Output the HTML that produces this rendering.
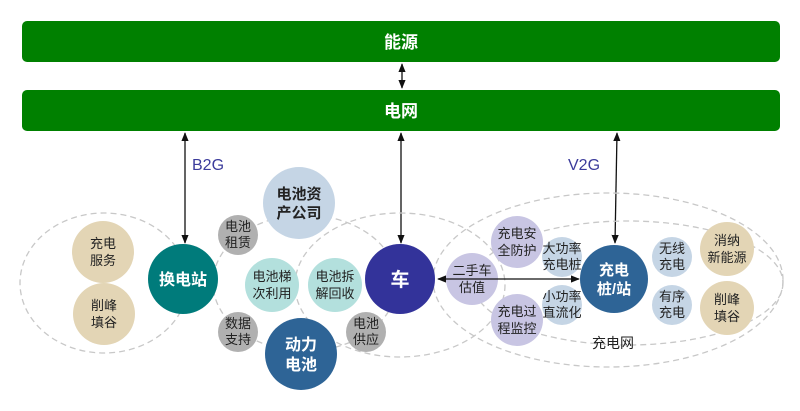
<!DOCTYPE html>
<html><head><meta charset="utf-8"><style>
html,body{margin:0;padding:0;background:#fff}
svg text{font-family:"Liberation Sans","Noto Sans CJK SC",sans-serif}
</style></head><body>
<svg width="800" height="406" viewBox="0 0 800 406" xmlns="http://www.w3.org/2000/svg">
<defs>
<marker id="a" viewBox="0 0 10 10" refX="9" refY="5" markerWidth="7" markerHeight="7" orient="auto-start-reverse"><path d="M0,1 L10,5 L0,9 z" fill="#111"/></marker>
</defs>
<rect x="22" y="21" width="758" height="41" rx="5" fill="#008000"/>
<rect x="22" y="90" width="758" height="41" rx="5" fill="#008000"/>
<text x="401" y="48" font-size="17" font-weight="bold" fill="#fff" text-anchor="middle">能源</text>
<text x="401" y="117" font-size="17" font-weight="bold" fill="#fff" text-anchor="middle">电网</text>
<g stroke="#111" stroke-width="1.3" fill="none">
<line x1="402" y1="64" x2="402" y2="88" marker-start="url(#a)" marker-end="url(#a)"/>
<line x1="185" y1="243" x2="185" y2="133" marker-start="url(#a)" marker-end="url(#a)"/>
<line x1="401" y1="243" x2="401" y2="133" marker-start="url(#a)" marker-end="url(#a)"/>
<line x1="615" y1="243" x2="617" y2="133" marker-start="url(#a)" marker-end="url(#a)"/>
</g>
<text x="192" y="170" font-size="16" fill="#3b3b9b">B2G</text>
<text x="568" y="170" font-size="16" fill="#3b3b9b">V2G</text>
<g stroke="#c8c8c8" stroke-width="1.3" stroke-dasharray="6,4" fill="none">
<ellipse cx="104" cy="283" rx="84" ry="70"/>
<ellipse cx="305" cy="283" rx="92" ry="68"/>
<ellipse cx="400" cy="285" rx="105" ry="72"/>
<ellipse cx="608" cy="280" rx="175" ry="87"/>
<ellipse cx="628" cy="283" rx="155" ry="62"/>
</g>
<g font-size="13" text-anchor="middle" fill="#222">
<circle cx="103" cy="252" r="31" fill="#e3d5b5"/><text x="103" y="248">充电</text><text x="103" y="265">服务</text>
<circle cx="104" cy="314" r="31" fill="#e3d5b5"/><text x="104" y="310">削峰</text><text x="104" y="327">填谷</text>
<circle cx="299" cy="203" r="36" fill="#c5d5e5"/><text x="299" y="199" font-size="15" font-weight="bold">电池资</text><text x="299" y="218" font-size="15" font-weight="bold">产公司</text>
<circle cx="238" cy="235" r="20" fill="#b0b0b0"/><text x="238" y="231">电池</text><text x="238" y="247">租赁</text>
<circle cx="272" cy="285" r="27" fill="#b3e0dd"/><text x="272" y="281">电池梯</text><text x="272" y="298">次利用</text>
<circle cx="335" cy="285" r="27" fill="#b3e0dd"/><text x="335" y="281">电池拆</text><text x="335" y="298">解回收</text>
<circle cx="238" cy="332" r="20" fill="#b0b0b0"/><text x="238" y="328">数据</text><text x="238" y="344">支持</text>
<circle cx="366" cy="332" r="20" fill="#b0b0b0"/><text x="366" y="328">电池</text><text x="366" y="344">供应</text>
<circle cx="183" cy="279" r="35" fill="#007b7b"/><text x="183" y="285" font-size="16" font-weight="bold" fill="#fff">换电站</text>
<circle cx="301" cy="354" r="36" fill="#2e6496"/><text x="301" y="350" font-size="16" font-weight="bold" fill="#fff">动力</text><text x="301" y="370" font-size="16" font-weight="bold" fill="#fff">电池</text>
<circle cx="400" cy="279" r="35" fill="#33339a"/><text x="400" y="286" font-size="19" font-weight="bold" fill="#fff">车</text>
<circle cx="472" cy="279" r="26" fill="#c8c5e3"/><text x="472" y="275">二手车</text><text x="472" y="292">估值</text>
<circle cx="517" cy="242" r="26" fill="#c8c5e3"/><text x="517" y="238">充电安</text><text x="517" y="255">全防护</text>
<circle cx="517" cy="320" r="26" fill="#c8c5e3"/><text x="517" y="316">充电过</text><text x="517" y="333">程监控</text>
<circle cx="562" cy="257" r="20" fill="#c5d5e5"/><text x="562" y="253">大功率</text><text x="562" y="269">充电桩</text>
<circle cx="562" cy="305" r="20" fill="#c5d5e5"/><text x="562" y="301">小功率</text><text x="562" y="317">直流化</text>
<circle cx="614" cy="279" r="34" fill="#2e6496"/><text x="614" y="275" font-size="15" font-weight="bold" fill="#fff">充电</text><text x="614" y="294" font-size="15" font-weight="bold" fill="#fff">桩/站</text>
<circle cx="672" cy="257" r="20" fill="#c5d5e5"/><text x="672" y="253">无线</text><text x="672" y="269">充电</text>
<circle cx="672" cy="305" r="20" fill="#c5d5e5"/><text x="672" y="301">有序</text><text x="672" y="317">充电</text>
<circle cx="727" cy="249" r="27" fill="#e3d5b5"/><text x="727" y="245">消纳</text><text x="727" y="262">新能源</text>
<circle cx="727" cy="308" r="27" fill="#e3d5b5"/><text x="727" y="304">削峰</text><text x="727" y="321">填谷</text>
<text x="613" y="348" font-size="14">充电网</text>
</g>
<line x1="438" y1="279" x2="579" y2="279" stroke="#111" stroke-width="1.3" marker-start="url(#a)" marker-end="url(#a)"/>
</svg>
</body></html>
